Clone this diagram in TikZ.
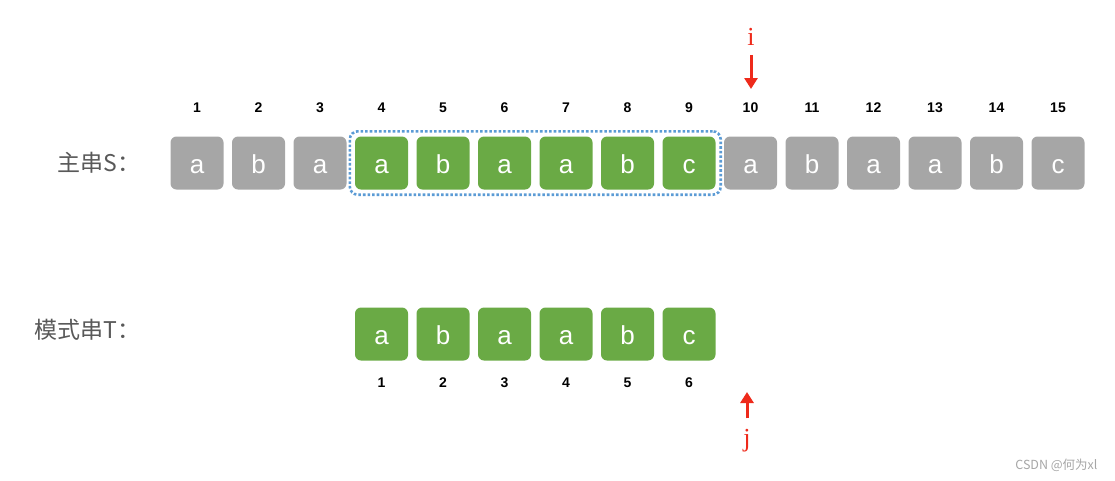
\documentclass[tikz,border=0pt]{standalone}
\usepackage{fontspec}
\setmainfont{Liberation Sans}
\newfontfamily\cjk{Noto Sans CJK SC}
\newfontfamily\serifi{Liberation Serif}
\usepackage{xcolor}
\usetikzlibrary{arrows.meta, positioning, fit, calc}

\definecolor{boxgray}{HTML}{A6A6A6}
\definecolor{boxgreen}{HTML}{6AAA45}
\definecolor{dotblue}{HTML}{5B9BD5}
\definecolor{labgray}{HTML}{595959}
\definecolor{ptrred}{HTML}{EE2A1B}

\begin{document}
\begin{tikzpicture}[
    x=1pt, y=-1pt,
    cell/.style={rectangle, rounded corners=6pt, minimum width=53pt, minimum height=53pt, inner sep=0pt, text height=20pt, text depth=0pt, text=white, font=\fontsize{26}{26}\selectfont},
    idx/.style={font=\fontsize{14}{14}\selectfont\bfseries},
    rowlab/.style={anchor=east, text=labgray, font=\cjk\fontsize{23}{23}\selectfont},
    ptrlab/.style={text=ptrred, font=\serifi\fontsize{26}{26}\selectfont, inner sep=0pt},
    ptr/.style={-{Triangle[length=11pt, width=13pt]}, line width=3pt, ptrred}
]
\useasboundingbox (0,0) rectangle (1115,480);

% main string S
\foreach \c [count=\k] in {a,b,a,a,b,a,a,b,c,a,b,a,a,b,c} {
  \ifnum\k<4 \def\fc{boxgray}\else\ifnum\k>9 \def\fc{boxgray}\else\def\fc{boxgreen}\fi\fi
  \node[cell, fill=\fc] (s\k) at ({197+61.5*(\k-1)},163) {\c};
  \node[idx] (sn\k) at ({197+61.5*(\k-1)},108) {\k};
}

% pattern T
\foreach \c [count=\k] in {a,b,a,a,b,c} {
  \node[cell, fill=boxgreen] (t\k) at ({197+61.5*(\k+2)},334) {\c};
  \node[idx] (tn\k) at ({197+61.5*(\k+2)},383) {\k};
}

\node[draw=dotblue, dotted, line width=2.6pt, rounded corners=8pt, inner sep=5pt, fit=(s4) (s9)] (match) {};

\node[rowlab] (lab1) at (144,163) {主串S：};
\node[rowlab] (lab2) at (144,330) {模式串T：};

% pointers
\node[ptrlab] (ilab) at (751,37) {i};
\coordinate (itip) at (751,89);
\draw[ptr] ($(ilab.south)+(0,9)$) -- (itip);

\node[ptrlab] (jlab) at (747,441) {j};
\coordinate (jtip) at (747,392);
\draw[ptr] ($(jlab.north)+(0,-11)$) -- (jtip);

\node[text=gray!70, font=\cjk\fontsize{12.5}{12.5}\selectfont, anchor=east] (mark) at (1101,465) {CSDN @何为xl};
\end{tikzpicture}
\end{document}
